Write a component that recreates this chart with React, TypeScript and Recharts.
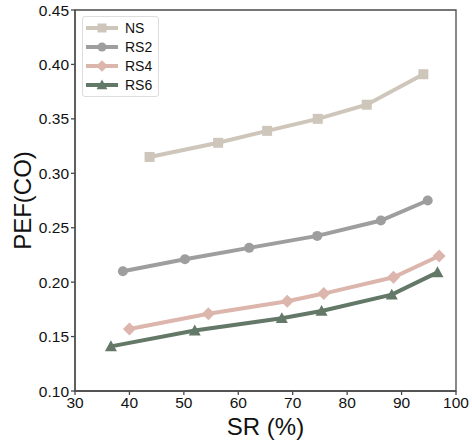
import React from 'react';
import { LineChart, Line, XAxis, YAxis, ReferenceArea } from 'recharts';

const seriesNames = ['NS', 'RS2', 'RS4', 'RS6'];
const colors = ['#cfc6bb', '#9e9e9e', '#dcb5ac', '#637867'];
const markers = ['square', 'circle', 'diamond', 'triangle'];

const nsX = [43.7, 56.3, 65.3, 74.6, 83.6, 94.0];
const nsY = [0.315, 0.328, 0.339, 0.35, 0.363, 0.391];
const rs2X = [38.8, 50.2, 62.0, 74.5, 86.2, 94.8];
const rs2Y = [0.21, 0.221, 0.2315, 0.2425, 0.2566, 0.275];
const rs4X = [40.0, 54.5, 69.0, 75.7, 88.5, 96.9];
const rs4Y = [0.157, 0.171, 0.1825, 0.1895, 0.2045, 0.224];
const rs6X = [36.6, 52.0, 68.0, 75.3, 88.2, 96.6];
const rs6Y = [0.141, 0.1555, 0.1668, 0.1735, 0.1885, 0.209];

const xTicks = [30, 40, 50, 60, 70, 80, 90, 100];
const yTicks = [0.1, 0.15, 0.2, 0.25, 0.3, 0.35, 0.4, 0.45];

const toPoints = (xs: number[], ys: number[]) => xs.map((x, i) => ({ x, y: ys[i] }));
const seriesData = [toPoints(nsX, nsY), toPoints(rs2X, rs2Y), toPoints(rs4X, rs4Y), toPoints(rs6X, rs6Y)];

const FONT = '"Liberation Sans", Arial, sans-serif';
const AXIS = '#4a4a4a';

function Marker({ kind, cx, cy, color, size = 5 }: { kind: string; cx: number; cy: number; color: string; size?: number }) {
  if (cx == null || cy == null) return null;
  if (kind === 'square') {
    return <rect x={cx - size} y={cy - size} width={size * 2} height={size * 2} fill={color} />;
  }
  if (kind === 'circle') {
    return <circle cx={cx} cy={cy} r={size} fill={color} />;
  }
  if (kind === 'diamond') {
    const s = size * 1.3;
    return <polygon points={`${cx},${cy - s} ${cx + s},${cy} ${cx},${cy + s} ${cx - s},${cy}`} fill={color} />;
  }
  const s = size * 1.2;
  return <polygon points={`${cx},${cy - s} ${cx + s},${cy + s * 0.8} ${cx - s},${cy + s * 0.8}`} fill={color} />;
}

function LegendBox() {
  return (
    <div
      style={{
        position: 'absolute',
        left: 82,
        top: 16,
        border: '1px solid #dddddd',
        borderRadius: 3,
        background: 'rgba(255,255,255,0.8)',
        padding: '1px 6px 2px 2px',
        fontFamily: FONT,
        fontSize: 14,
        color: '#111',
      }}
    >
      {seriesNames.map((name, i) => (
        <div key={name} style={{ display: 'flex', alignItems: 'center', height: 19 }}>
          <svg width={34} height={14} style={{ marginRight: 6 }}>
            <line x1={1} y1={7} x2={33} y2={7} stroke={colors[i]} strokeWidth={4} />
            <Marker kind={markers[i]} cx={17} cy={7} color={colors[i]} size={4.5} />
          </svg>
          <span>{name}</span>
        </div>
      ))}
    </div>
  );
}

export default function App() {
  return (
    <div style={{ position: 'fixed', left: 0, top: 0, width: 472, height: 444, background: '#fff' }}>
      <LineChart width={472} height={444} margin={{ top: 10, right: 16, bottom: 0, left: 0 }}>
        <XAxis
          type="number"
          dataKey="x"
          domain={[30, 100]}
          ticks={xTicks}
          allowDataOverflow
          height={53}
          stroke={AXIS}
          strokeWidth={1.3}
          tickSize={4}
          tick={{ fill: '#111', fontSize: 15.5, fontFamily: FONT }}
          label={{ value: 'SR (%)', position: 'insideBottom', offset: 9, fill: '#111', fontSize: 24, fontFamily: FONT }}
        />
        <YAxis
          type="number"
          dataKey="y"
          domain={[0.1, 0.45]}
          ticks={yTicks}
          allowDataOverflow
          width={75}
          stroke={AXIS}
          strokeWidth={1.3}
          tickSize={4}
          tickFormatter={(v: number) => v.toFixed(2)}
          tick={{ fill: '#111', fontSize: 15.5, fontFamily: FONT }}
          label={{
            content: (props: any) => {
              const vb = props.viewBox || { x: 0, y: 10, width: 75, height: 381 };
              const cx = vb.x + 22;
              const cy = vb.y + vb.height / 2;
              return (
                <text
                  x={cx}
                  y={cy}
                  transform={`rotate(-90 ${cx} ${cy})`}
                  textAnchor="middle"
                  dominantBaseline="central"
                  fill="#111"
                  fontSize={24}
                  fontFamily={FONT}
                >
                  PEF(CO)
                </text>
              );
            },
          }}
        />
        <ReferenceArea x1={30} x2={100} y1={0.1} y2={0.45} fill="none" stroke={AXIS} strokeWidth={1.3} ifOverflow="visible" />
        {seriesNames.map((name, i) => (
          <Line
            key={name}
            name={name}
            data={seriesData[i]}
            dataKey="y"
            type="linear"
            stroke={colors[i]}
            strokeWidth={4}
            isAnimationActive={false}
            activeDot={false}
            dot={(p: any) => <Marker key={`${name}-${p.index}`} kind={markers[i]} cx={p.cx} cy={p.cy} color={colors[i]} />}
          />
        ))}
      </LineChart>
      <LegendBox />
    </div>
  );
}
